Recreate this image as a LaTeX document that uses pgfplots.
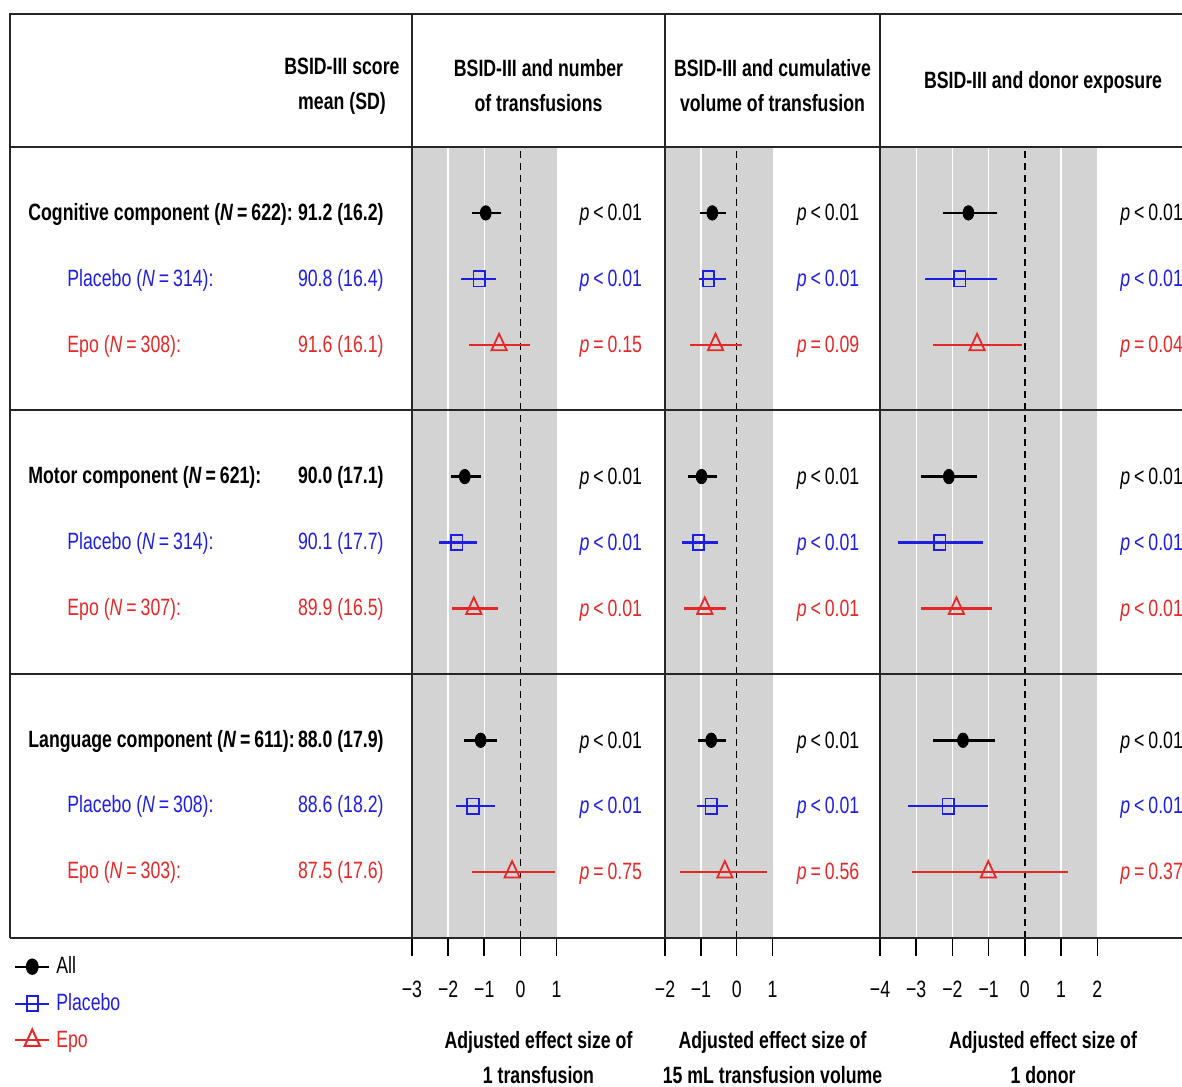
\documentclass[border=0pt]{standalone}
\usepackage{pgfplots}
\pgfplotsset{compat=1.18}
\usepackage{fontspec}
\setmainfont{Liberation Sans}[FakeStretch=0.75]
\definecolor{myblue}{RGB}{30,30,225}
\definecolor{myred}{RGB}{228,40,40}
\definecolor{panelgray}{RGB}{211,211,211}
\newcommand\fs{\fontsize{11.8}{17.5}\selectfont}
\tikzset{
  wgrid/.style={white, line width=0.7pt},
  zline/.style={black, line width=0.75pt, dash pattern=on 3.5pt off 2.5pt},
}
\pgfplotsset{
  panel/.style={
    scale only axis, height=395.5pt, anchor=south west,
    ymin=0, ymax=12, ytick=\empty,
    axis line style={black!85, line width=1pt},
    xtick pos=left, tick align=outside,
    major tick length=9pt,
    every tick/.style={black, line width=0.8pt},
    tick label style={font=\fs},
    xticklabel style={yshift=-9pt},
    xlabel style={font=\fs\bfseries, align=center, at={(axis description cs:0.5,-0.109)}, anchor=north},
    clip=false,
  },
  ebar/.style={error bars/x dir=both, error bars/x explicit, error bars/error mark=none,
    error bars/error bar style={line width=1.25pt, #1}},
  allst/.style={black, only marks, mark=*, mark size=3.6pt, mark options={xscale=0.75, fill=black}, ebar=black},
  plast/.style={myblue, only marks, mark=square, mark size=3.8pt, mark options={xscale=0.75, line width=0.9pt}, ebar=myblue},
  epost/.style={myred, only marks, mark=triangle, mark size=5.5pt, mark options={xscale=0.8, line width=0.9pt}, ebar=myred},
}
\newcommand\pv[2]{\textcolor{#1}{\textit{p}\,#2}}
\begin{document}
\begin{tikzpicture}[x=0.5pt,y=-0.5pt,font=\fs]
\coordinate (A1) at (412,938);
\coordinate (A2) at (665,938);
\coordinate (A3) at (880,938);
% ---------- Panel 1 : number of transfusions ----------
\begin{axis}[panel, at={(A1)}, width=126.5pt, xmin=-3, xmax=4,
  xtick={-3,-2,-1,0,1}, xticklabels={−3,−2,−1,0,1},
  xlabel={Adjusted effect size of\\1 transfusion},
  legend style={at={(axis description cs:-1.574,-0.018)}, anchor=north west, draw=none, fill=none,
    font=\fs, row sep=4.5pt, column sep=1pt, inner sep=0pt, cells={anchor=west}},
  legend cell align=left]
\fill[panelgray] (axis cs:-3,0) rectangle (axis cs:1,12);
\draw[wgrid] (axis cs:-2,0) -- (axis cs:-2,12);
\draw[wgrid] (axis cs:-1,0) -- (axis cs:-1,12);
\draw[zline] (axis cs:0,0) -- (axis cs:0,12);
\addlegendimage{black, line width=1pt, mark=*, mark size=3.6pt, mark options={xscale=0.75, fill=black}}
\addlegendentry{All}
\addlegendimage{myblue, line width=1pt, mark=square, mark size=3.8pt, mark options={xscale=0.75}}
\addlegendentry{\textcolor{myblue}{Placebo}}
\addlegendimage{myred, line width=1pt, mark=triangle, mark size=5.5pt, mark options={xscale=0.8}}
\addlegendentry{\textcolor{myred}{Epo}}
\addplot[allst, forget plot] table[x=x, y=y, x error plus expr=\thisrow{hi}-\thisrow{x}, x error minus expr=\thisrow{x}-\thisrow{lo}] {
y x lo hi
11 -0.96 -1.34 -0.53
7 -1.54 -1.92 -1.10
3 -1.10 -1.56 -0.64
};
\addplot[plast, forget plot] table[x=x, y=y, x error plus expr=\thisrow{hi}-\thisrow{x}, x error minus expr=\thisrow{x}-\thisrow{lo}] {
y x lo hi
10 -1.14 -1.64 -0.68
6 -1.76 -2.26 -1.20
2 -1.31 -1.79 -0.70
};
\addplot[epost, forget plot] table[x=x, y=y, x error plus expr=\thisrow{hi}-\thisrow{x}, x error minus expr=\thisrow{x}-\thisrow{lo}] {
y x lo hi
9 -0.59 -1.42 0.26
5 -1.29 -1.89 -0.61
1 -0.23 -1.34 0.97
};
\node at (axis cs:2.5,10.97) {\pv{black}{<\,0.01}};
\node at (axis cs:2.5,9.97) {\pv{myblue}{<\,0.01}};
\node at (axis cs:2.5,8.97)  {\pv{myred}{=\,0.15}};
\node at (axis cs:2.5,6.97)  {\pv{black}{<\,0.01}};
\node at (axis cs:2.5,5.97)  {\pv{myblue}{<\,0.01}};
\node at (axis cs:2.5,4.97)  {\pv{myred}{<\,0.01}};
\node at (axis cs:2.5,2.97)  {\pv{black}{<\,0.01}};
\node at (axis cs:2.5,1.97)  {\pv{myblue}{<\,0.01}};
\node at (axis cs:2.5,0.97)  {\pv{myred}{=\,0.75}};
\end{axis}
% ---------- Panel 2 : cumulative volume ----------
\begin{axis}[panel, at={(A2)}, width=107.5pt, xmin=-2, xmax=4,
  xtick={-2,-1,0,1}, xticklabels={−2,−1,0,1},
  xlabel={Adjusted effect size of\\15 mL transfusion volume}]
\fill[panelgray] (axis cs:-2,0) rectangle (axis cs:1,12);
\draw[wgrid] (axis cs:-1,0) -- (axis cs:-1,12);
\draw[zline] (axis cs:0,0) -- (axis cs:0,12);
\addplot[allst] table[x=x, y=y, x error plus expr=\thisrow{hi}-\thisrow{x}, x error minus expr=\thisrow{x}-\thisrow{lo}] {
y x lo hi
11 -0.68 -1.01 -0.31
7 -0.98 -1.36 -0.56
3 -0.71 -1.08 -0.31
};
\addplot[plast] table[x=x, y=y, x error plus expr=\thisrow{hi}-\thisrow{x}, x error minus expr=\thisrow{x}-\thisrow{lo}] {
y x lo hi
10 -0.79 -1.06 -0.29
6 -1.06 -1.52 -0.51
2 -0.71 -1.10 -0.23
};
\addplot[epost] table[x=x, y=y, x error plus expr=\thisrow{hi}-\thisrow{x}, x error minus expr=\thisrow{x}-\thisrow{lo}] {
y x lo hi
9 -0.59 -1.29 0.16
5 -0.89 -1.48 -0.29
1 -0.33 -1.57 0.86
};
\node at (axis cs:2.55,10.97) {\pv{black}{<\,0.01}};
\node at (axis cs:2.55,9.97) {\pv{myblue}{<\,0.01}};
\node at (axis cs:2.55,8.97)  {\pv{myred}{=\,0.09}};
\node at (axis cs:2.55,6.97)  {\pv{black}{<\,0.01}};
\node at (axis cs:2.55,5.97)  {\pv{myblue}{<\,0.01}};
\node at (axis cs:2.55,4.97)  {\pv{myred}{<\,0.01}};
\node at (axis cs:2.55,2.97)  {\pv{black}{<\,0.01}};
\node at (axis cs:2.55,1.97)  {\pv{myblue}{<\,0.01}};
\node at (axis cs:2.55,0.97)  {\pv{myred}{=\,0.56}};
\end{axis}
% ---------- Panel 3 : donor exposure ----------
\begin{axis}[panel, at={(A3)}, width=163pt, xmin=-4, xmax=5,
  xtick={-4,-3,-2,-1,0,1,2}, xticklabels={−4,−3,−2,−1,0,1,2},
  xlabel={Adjusted effect size of\\1 donor}]
\fill[panelgray] (axis cs:-4,0) rectangle (axis cs:2,12);
\draw[wgrid] (axis cs:-3,0) -- (axis cs:-3,12);
\draw[wgrid] (axis cs:-2,0) -- (axis cs:-2,12);
\draw[wgrid] (axis cs:-1,0) -- (axis cs:-1,12);
\draw[wgrid] (axis cs:1,0) -- (axis cs:1,12);
\draw[zline] (axis cs:0,0) -- (axis cs:0,12);
\addplot[allst] table[x=x, y=y, x error plus expr=\thisrow{hi}-\thisrow{x}, x error minus expr=\thisrow{x}-\thisrow{lo}] {
y x lo hi
11 -1.56 -2.26 -0.78
7 -2.10 -2.88 -1.31
3 -1.71 -2.53 -0.83
};
\addplot[plast] table[x=x, y=y, x error plus expr=\thisrow{hi}-\thisrow{x}, x error minus expr=\thisrow{x}-\thisrow{lo}] {
y x lo hi
10 -1.80 -2.76 -0.78
6 -2.35 -3.50 -1.17
2 -2.12 -3.23 -1.01
};
\addplot[epost] table[x=x, y=y, x error plus expr=\thisrow{hi}-\thisrow{x}, x error minus expr=\thisrow{x}-\thisrow{lo}] {
y x lo hi
9 -1.32 -2.53 -0.09
5 -1.89 -2.86 -0.92
1 -1.01 -3.13 1.18
};
\node at (axis cs:3.5,10.97) {\pv{black}{<\,0.01}};
\node at (axis cs:3.5,9.97) {\pv{myblue}{<\,0.01}};
\node at (axis cs:3.5,8.97)  {\pv{myred}{=\,0.04}};
\node at (axis cs:3.5,6.97)  {\pv{black}{<\,0.01}};
\node at (axis cs:3.5,5.97)  {\pv{myblue}{<\,0.01}};
\node at (axis cs:3.5,4.97)  {\pv{myred}{<\,0.01}};
\node at (axis cs:3.5,2.97)  {\pv{black}{<\,0.01}};
\node at (axis cs:3.5,1.97)  {\pv{myblue}{<\,0.01}};
\node at (axis cs:3.5,0.97)  {\pv{myred}{=\,0.37}};
\end{axis}
% ---------- table frame ----------
\begin{scope}[black!85, line width=1pt]
\draw (10,938) -- (10,14) -- (1210,14);
\draw (10,147) -- (1210,147);
\draw (10,410) -- (1210,410);
\draw (10,674) -- (1210,674);
\draw (10,938) -- (1210,938);
\draw (412,14) -- (412,938);
\draw (665,14) -- (665,938);
\draw (880,14) -- (880,938);
\end{scope}
% ---------- headers ----------
\begin{scope}[every node/.style={align=center, font=\fs\bfseries}]
\node at (342,86) {BSID-III score\\mean (SD)};
\node at (538.5,86) {BSID-III and number\\of transfusions};
\node at (772.5,86) {BSID-III and cumulative\\volume of transfusion};
\node at (1043,82) {BSID-III and donor exposure};
\end{scope}
% ---------- left column ----------
\begin{scope}[every node/.style={inner sep=0pt}]
\node[anchor=west, font=\fs\bfseries] at (28,214) {Cognitive component (\textit{N}\,=\,622):};
\node[anchor=east, font=\fs\bfseries] at (384,214) {91.2 (16.2)};
\node[anchor=west, text=myblue] at (67,280) {Placebo (\textit{N}\,=\,314):};
\node[anchor=east, text=myblue] at (384,280) {90.8 (16.4)};
\node[anchor=west, text=myred] at (67,346) {Epo (\textit{N}\,=\,308):};
\node[anchor=east, text=myred] at (384,346) {91.6 (16.1)};
\node[anchor=west, font=\fs\bfseries] at (28,477) {Motor component (\textit{N}\,=\,621):};
\node[anchor=east, font=\fs\bfseries] at (384,477) {90.0 (17.1)};
\node[anchor=west, text=myblue] at (67,543) {Placebo (\textit{N}\,=\,314):};
\node[anchor=east, text=myblue] at (384,543) {90.1 (17.7)};
\node[anchor=west, text=myred] at (67,609) {Epo (\textit{N}\,=\,307):};
\node[anchor=east, text=myred] at (384,609) {89.9 (16.5)};
\node[anchor=west, font=\fs\bfseries] at (28,741) {Language component (\textit{N}\,=\,611):};
\node[anchor=east, font=\fs\bfseries] at (384,741) {88.0 (17.9)};
\node[anchor=west, text=myblue] at (67,806) {Placebo (\textit{N}\,=\,308):};
\node[anchor=east, text=myblue] at (384,806) {88.6 (18.2)};
\node[anchor=west, text=myred] at (67,872) {Epo (\textit{N}\,=\,303):};
\node[anchor=east, text=myred] at (384,872) {87.5 (17.6)};
\end{scope}
\pgfresetboundingbox
\useasboundingbox (0,0) rectangle (1182,1086);
\end{tikzpicture}
\end{document}
